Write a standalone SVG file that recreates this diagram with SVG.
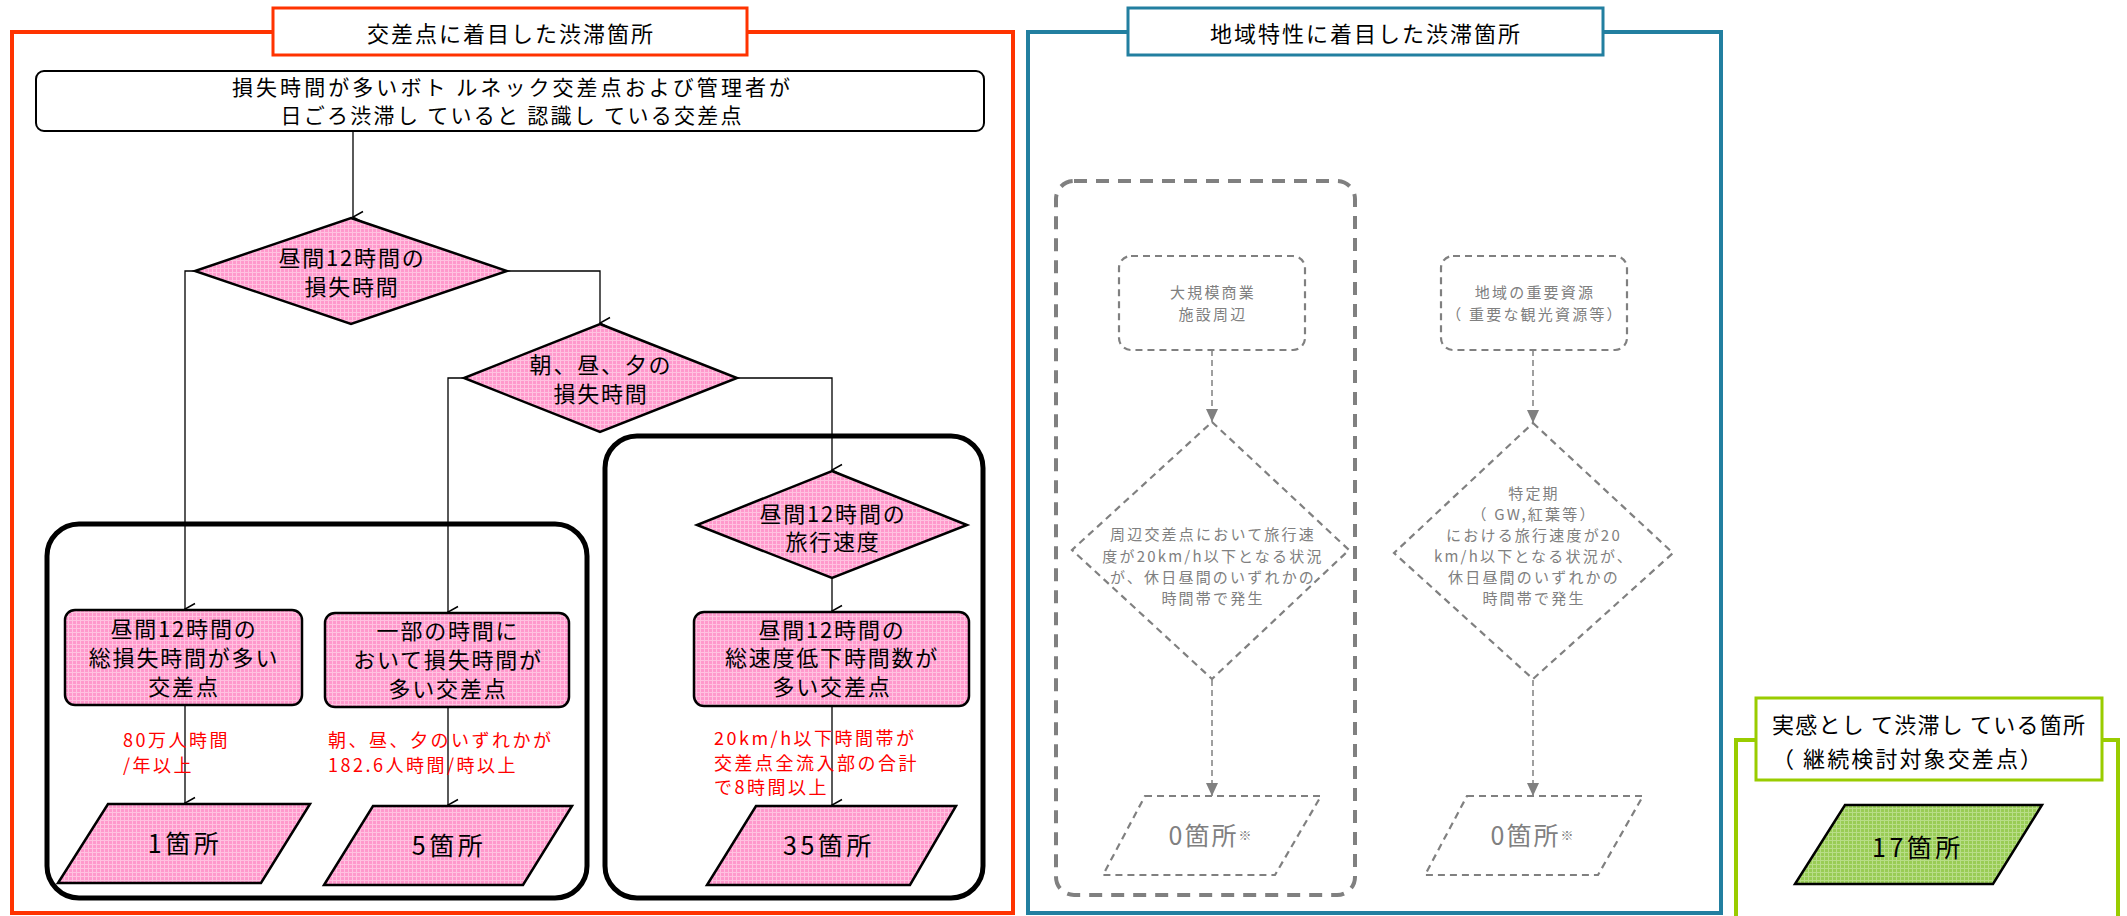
<svg xmlns="http://www.w3.org/2000/svg" width="2127" height="916" viewBox="0 0 2127 916">
<defs>
<marker id="arr" markerWidth="14" markerHeight="12" refX="7" refY="11" orient="auto-start-reverse" markerUnits="userSpaceOnUse" viewBox="0 0 14 12">
<path d="M1.5,1 L7,11 L12.5,1" fill="none" stroke="#000" stroke-width="1.5"/>
</marker>
<marker id="garr" markerWidth="12" markerHeight="14" refX="6" refY="13" markerUnits="userSpaceOnUse" viewBox="0 0 12 14">
<path d="M0,0 L6,13 L12,0 Z" fill="#808080"/>
</marker>
<pattern id="pink" width="4" height="4" patternUnits="userSpaceOnUse">
<rect width="4" height="4" fill="#FF99CC"/>
<path d="M0,0.5 H4 M0.5,0 V4" stroke="#FFC2E0" stroke-width="1"/>
</pattern>
<pattern id="green" width="4" height="4" patternUnits="userSpaceOnUse">
<rect width="4" height="4" fill="#99CC55"/>
<path d="M0,0.5 H4 M0.5,0 V4" stroke="#B8DD88" stroke-width="1"/>
</pattern>
</defs>
<style>
text{font-family:"Noto Sans CJK JP","Noto Sans",sans-serif;text-anchor:middle;dominant-baseline:central;fill:#000}
.title{font-size:22px;letter-spacing:2px}
.t22{font-size:22px;letter-spacing:1.8px}
.top{font-size:21px}
.red{font-size:18px;letter-spacing:2.5px;fill:#FF0000;text-anchor:start}
.big{font-size:25px;letter-spacing:3.5px}
.gray{font-size:15px;letter-spacing:2.2px;fill:#808080}
.gbig{font-size:25px;letter-spacing:2px;fill:#808080}
.pk{fill:url(#pink);stroke:#000;stroke-width:2.5}
.thick{fill:none;stroke:#000;stroke-width:5}
.con{fill:none;stroke:#000;stroke-width:1.3;marker-end:url(#arr)}
.gcon{fill:none;stroke:#808080;stroke-width:1.5;stroke-dasharray:6 4;marker-end:url(#garr)}
.gdash{fill:none;stroke:#808080;stroke-width:2.2;stroke-dasharray:7 5}
</style>

<g id="frame-intersection">
<rect x="12" y="32" width="1001" height="881" fill="none" stroke="#FF3300" stroke-width="4"/>
<rect x="273" y="8" width="474" height="47" fill="#fff" stroke="#FF3300" stroke-width="3"/>
<text class="title" x="511" y="32">交差点に着目した渋滞箇所</text>
</g>
<g id="frame-region">
<rect x="1028" y="32" width="693" height="881" fill="none" stroke="#227FA0" stroke-width="4"/>
<rect x="1128" y="8" width="475" height="47" fill="#fff" stroke="#227FA0" stroke-width="3"/>
<text class="title" x="1366" y="32">地域特性に着目した渋滞箇所</text>
</g>
<g id="frame-feel">
<rect x="1736" y="740" width="382" height="190" fill="none" stroke="#99CC00" stroke-width="4"/>
<rect x="1756" y="698" width="346" height="82" fill="#fff" stroke="#99CC00" stroke-width="3"/>
<text class="title" x="1772" y="723" style="text-anchor:start" textLength="315" lengthAdjust="spacing">実感とし て渋滞し ている箇所</text>
<text class="title" x="1772" y="757" style="text-anchor:start" textLength="272" lengthAdjust="spacing">（ 継続検討対象交差点）</text>
</g>

<g id="group-left"><rect class="thick" x="47" y="524" width="540" height="374" rx="32"/></g>
<g id="group-right"><rect class="thick" x="605" y="436" width="378" height="462" rx="32"/></g>

<g id="connectors">
<path class="con" d="M353,131 V217"/>
<path class="con" d="M195,271 H185 V609"/>
<path class="con" d="M507,271 H600 V323"/>
<path class="con" d="M464,378 H448 V612"/>
<path class="con" d="M737,378 H832 V470"/>
<path class="con" d="M832,578 V611"/>
<path class="con" d="M185,705 V803"/>
<path class="con" d="M448,707 V805"/>
<path class="con" d="M832,706 V805"/>
<path class="gcon" d="M1212,350 V422"/>
<path class="gcon" d="M1533,350 V423"/>
<path class="gcon" d="M1212,680 V796"/>
<path class="gcon" d="M1533,680 V796"/>
</g>

<g id="start">
<rect x="36" y="71" width="948" height="60" rx="8" fill="#fff" stroke="#000" stroke-width="2"/>
<text class="top" x="511" y="86" textLength="558" lengthAdjust="spacing">損失時間が多いボト ルネック交差点および管理者が</text>
<text class="top" x="511" y="114" textLength="461" lengthAdjust="spacing">日ごろ渋滞し ていると 認識し ている交差点</text>
</g>
<g id="d1">
<polygon class="pk" points="351,218 507,271 351,324 195,271"/>
<text class="t22" x="352" y="256">昼間12時間の</text>
<text class="t22" x="352" y="285">損失時間</text>
</g>
<g id="d2">
<polygon class="pk" points="600,324 737,378 600,432 464,378"/>
<text class="t22" x="601" y="363">朝、昼、夕の</text>
<text class="t22" x="601" y="392">損失時間</text>
</g>
<g id="d3">
<polygon class="pk" points="832,471 967,525 832,578 697,525"/>
<text class="t22" x="833" y="512">昼間12時間の</text>
<text class="t22" x="833" y="540">旅行速度</text>
</g>
<g id="b1">
<rect class="pk" x="65" y="610" width="237" height="95" rx="10"/>
<text class="t22" x="184" y="627">昼間12時間の</text>
<text class="t22" x="184" y="656">総損失時間が多い</text>
<text class="t22" x="184" y="685">交差点</text>
</g>
<g id="b2">
<rect class="pk" x="325" y="613" width="244" height="94" rx="10"/>
<text class="t22" x="448" y="629">一部の時間に</text>
<text class="t22" x="448" y="658">おいて損失時間が</text>
<text class="t22" x="448" y="687">多い交差点</text>
</g>
<g id="b3">
<rect class="pk" x="694" y="612" width="275" height="94" rx="10"/>
<text class="t22" x="832" y="628">昼間12時間の</text>
<text class="t22" x="832" y="656">総速度低下時間数が</text>
<text class="t22" x="832" y="685">多い交差点</text>
</g>
<g id="label1">
<text class="red" x="123" y="739">80万人時間</text>
<text class="red" x="123" y="764">/年以上</text>
</g>
<g id="label2">
<text class="red" x="328" y="739">朝、昼、夕のいずれかが</text>
<text class="red" x="328" y="764">182.6人時間/時以上</text>
</g>
<g id="label3">
<text class="red" x="714" y="737">20km/h以下時間帯が</text>
<text class="red" x="714" y="762">交差点全流入部の合計</text>
<text class="red" x="714" y="786">で8時間以上</text>
</g>
<g id="p1">
<polygon class="pk" points="108,804 310,804 261,883 58,883"/>
<text class="big" x="185" y="842">1箇所</text>
</g>
<g id="p2">
<polygon class="pk" points="373,806 572,806 523,885 324,885"/>
<text class="big" x="449" y="844">5箇所</text>
</g>
<g id="p3">
<polygon class="pk" points="756,806 956,806 910,885 707,885"/>
<text class="big" x="829" y="844">35箇所</text>
</g>

<g id="region-group">
<rect x="1056" y="181" width="299" height="714" rx="18" fill="none" stroke="#808080" stroke-width="4" stroke-dasharray="13 9"/>
</g>
<g id="r1">
<rect class="gdash" x="1119" y="256" width="186" height="94" rx="12"/>
<text class="gray" x="1213" y="291">大規模商業</text>
<text class="gray" x="1213" y="313">施設周辺</text>
</g>
<g id="r2">
<rect class="gdash" x="1441" y="256" width="186" height="94" rx="12"/>
<text class="gray" x="1535" y="291">地域の重要資源</text>
<text class="gray" x="1535" y="313">（ 重要な観光資源等）</text>
</g>
<g id="rd1">
<polygon class="gdash" points="1212,422 1349,550 1212,679 1072,550"/>
<text class="gray" x="1213" y="533">周辺交差点において旅行速</text>
<text class="gray" x="1213" y="555">度が20km/h以下となる状況</text>
<text class="gray" x="1213" y="576">が、休日昼間のいずれかの</text>
<text class="gray" x="1213" y="597">時間帯で発生</text>
</g>
<g id="rd2">
<polygon class="gdash" points="1533,423 1673,553 1533,679 1394,553"/>
<text class="gray" x="1534" y="492">特定期</text>
<text class="gray" x="1534" y="513">（ GW,紅葉等）</text>
<text class="gray" x="1534" y="534">における旅行速度が20</text>
<text class="gray" x="1534" y="555">km/h以下となる状況が、</text>
<text class="gray" x="1534" y="576">休日昼間のいずれかの</text>
<text class="gray" x="1534" y="597">時間帯で発生</text>
</g>
<g id="rp1">
<polygon class="gdash" points="1145,796 1321,796 1275,875 1103,875"/>
<text class="gbig" x="1210" y="834">0箇所<tspan font-size="13" letter-spacing="0">※</tspan></text>
</g>
<g id="rp2">
<polygon class="gdash" points="1467,796 1643,796 1598,875 1425,875"/>
<text class="gbig" x="1532" y="834">0箇所<tspan font-size="13" letter-spacing="0">※</tspan></text>
</g>

<g id="p17">
<polygon points="1845,805 2042,805 1993,884 1795,884" fill="url(#green)" stroke="#000" stroke-width="2.5"/>
<text class="big" x="1918" y="846">17箇所</text>
</g>
</svg>
